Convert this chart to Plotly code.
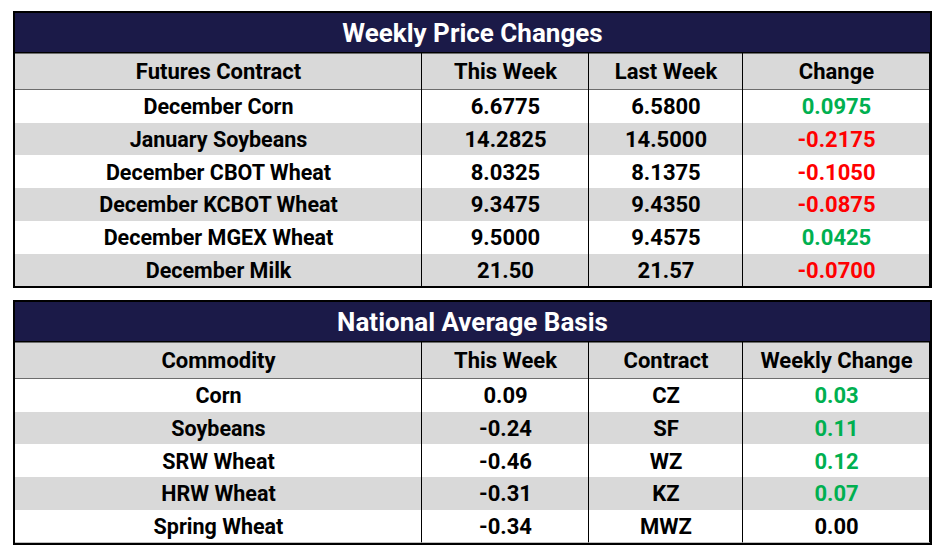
import plotly.graph_objects as go

###################
#### CONSTANTS ####
###################
NAVY = "#1b1a48"
GREY = "#d9d9d9"
GREEN = "#00b050"
RED = "#ff0000"
FONT = "Roboto"
W, H = 940, 547          # page body has an 8px margin, keep the figure inside the window
LEFT, RIGHT = 7, 922     # inner edges of the frames, figure px

# row geometry inside a block (1 unit = 1 px)
TITLE_H = 39
HEADER_TOP = 40.5
HEADER_H = 35.5
BODY_TOP = 77
ROW_H = 32.7
TEXT_DY = 2.5            # nudge text down to sit like the reference
col_widths = [407, 167, 154, 187]

CELL_SCALE = [[0, "white"], [0.5, GREY], [1, NAVY]]

###################
####   DATA    ####
###################
price_title = "Weekly Price Changes"
price_header = ["Futures Contract", "This Week", "Last Week", "Change"]
price_contract = ["December Corn", "January Soybeans", "December CBOT Wheat",
                  "December KCBOT Wheat", "December MGEX Wheat", "December Milk"]
price_this_week = ["6.6775", "14.2825", "8.0325", "9.3475", "9.5000", "21.50"]
price_last_week = ["6.5800", "14.5000", "8.1375", "9.4350", "9.4575", "21.57"]
price_change = [0.0975, -0.2175, -0.1050, -0.0875, 0.0425, -0.0700]

basis_title = "National Average Basis"
basis_header = ["Commodity", "This Week", "Contract", "Weekly Change"]
basis_commodity = ["Corn", "Soybeans", "SRW Wheat", "HRW Wheat", "Spring Wheat"]
basis_this_week = ["0.09", "-0.24", "-0.46", "-0.31", "-0.34"]
basis_contract = ["CZ", "SF", "WZ", "KZ", "MWZ"]
basis_change = [0.03, 0.11, 0.12, 0.07, 0.00]


###################
#### FUNCTIONS ####
###################
def change_color(v):
    if v > 0:
        return GREEN
    if v < 0:
        return RED
    return "black"


def cell_grid(x, y, z, xa, ya, xgap=0):
    return go.Heatmap(x=x, y=y, z=z, xgap=xgap, colorscale=CELL_SCALE, zmin=0, zmax=2,
                      showscale=False, hoverinfo="skip", xaxis=xa, yaxis=ya)


def add_block(fig, k, title, header, columns, changes, fmt, top):
    """Title bar + header + body on axes pair k, top = inner top edge in figure px"""
    xa, ya = ("x", "y") if k == 1 else ("x{}".format(k), "y{}".format(k))
    n = len(columns[0])

    x_edges = [sum(col_widths[:i]) for i in range(len(col_widths) + 1)]
    x_mid = [(a + b) / 2 for a, b in zip(x_edges[:-1], x_edges[1:])]
    total_w = x_edges[-1]
    body_edges = [BODY_TOP + i * ROW_H for i in range(n + 1)]
    body_mid = [(a + b) / 2 + TEXT_DY for a, b in zip(body_edges[:-1], body_edges[1:])]
    total_h = body_edges[-1]

    # cell fills, black background shows through the gaps as grid lines
    fig.add_trace(cell_grid([0, total_w], [0, TITLE_H], [[2]], xa, ya))
    fig.add_trace(cell_grid(x_edges, [HEADER_TOP, HEADER_TOP + HEADER_H],
                            [[1] * len(col_widths)], xa, ya, xgap=1))
    fig.add_trace(cell_grid(x_edges, body_edges,
                            [[i % 2] * len(col_widths) for i in range(n)], xa, ya, xgap=1))

    # title
    fig.add_trace(go.Scatter(x=[total_w / 2], y=[TITLE_H / 2 + TEXT_DY + 0.5], text=[title],
                             mode="text", textposition="middle center", hoverinfo="skip",
                             showlegend=False,
                             textfont=dict(family=FONT, size=26, weight="bold", color="white"),
                             xaxis=xa, yaxis=ya))
    # column header
    fig.add_trace(go.Scatter(x=x_mid, y=[HEADER_TOP + HEADER_H / 2 + TEXT_DY] * len(header),
                             text=header, mode="text", textposition="middle center",
                             hoverinfo="skip", showlegend=False,
                             textfont=dict(family=FONT, size=22, weight="bold", color="black"),
                             xaxis=xa, yaxis=ya))
    # body
    change_txt = [fmt.format(v) for v in changes]
    sizes = [21.5, 22, 22, 22]
    for j, (col, colors) in enumerate(zip(
            [columns[0], columns[1], columns[2], change_txt],
            [["black"] * n] * 3 + [[change_color(v) for v in changes]])):
        fig.add_trace(go.Scatter(x=[x_mid[j]] * n, y=body_mid, text=col, mode="text",
                                 textposition="middle center", hoverinfo="skip",
                                 showlegend=False,
                                 textfont=dict(family=FONT, size=sizes[j], weight="bold",
                                               color=colors),
                                 xaxis=xa, yaxis=ya))

    frame = dict(showline=True, mirror=True, linecolor="black", linewidth=2.3,
                 showgrid=False, zeroline=False, showticklabels=False, ticks="",
                 fixedrange=True)
    xkey = "xaxis" if k == 1 else "xaxis{}".format(k)
    ykey = "yaxis" if k == 1 else "yaxis{}".format(k)
    fig.update_layout(**{
        xkey: dict(frame, domain=[LEFT / W, RIGHT / W], range=[0, total_w], anchor=ya),
        ykey: dict(frame, domain=[1 - (top + total_h) / H, 1 - top / H],
                   range=[total_h, 0], anchor=xa),
    })


fig = go.Figure()
add_block(fig, 1, price_title, price_header,
          [price_contract, price_this_week, price_last_week], price_change, "{:.4f}", 5)
add_block(fig, 2, basis_title, basis_header,
          [basis_commodity, basis_this_week, basis_contract], basis_change, "{:.2f}", 294)

fig.update_layout(width=W, height=H, margin=dict(l=0, r=0, t=0, b=0),
                  paper_bgcolor="white", plot_bgcolor="black", showlegend=False)

fig.write_html("out.html")
